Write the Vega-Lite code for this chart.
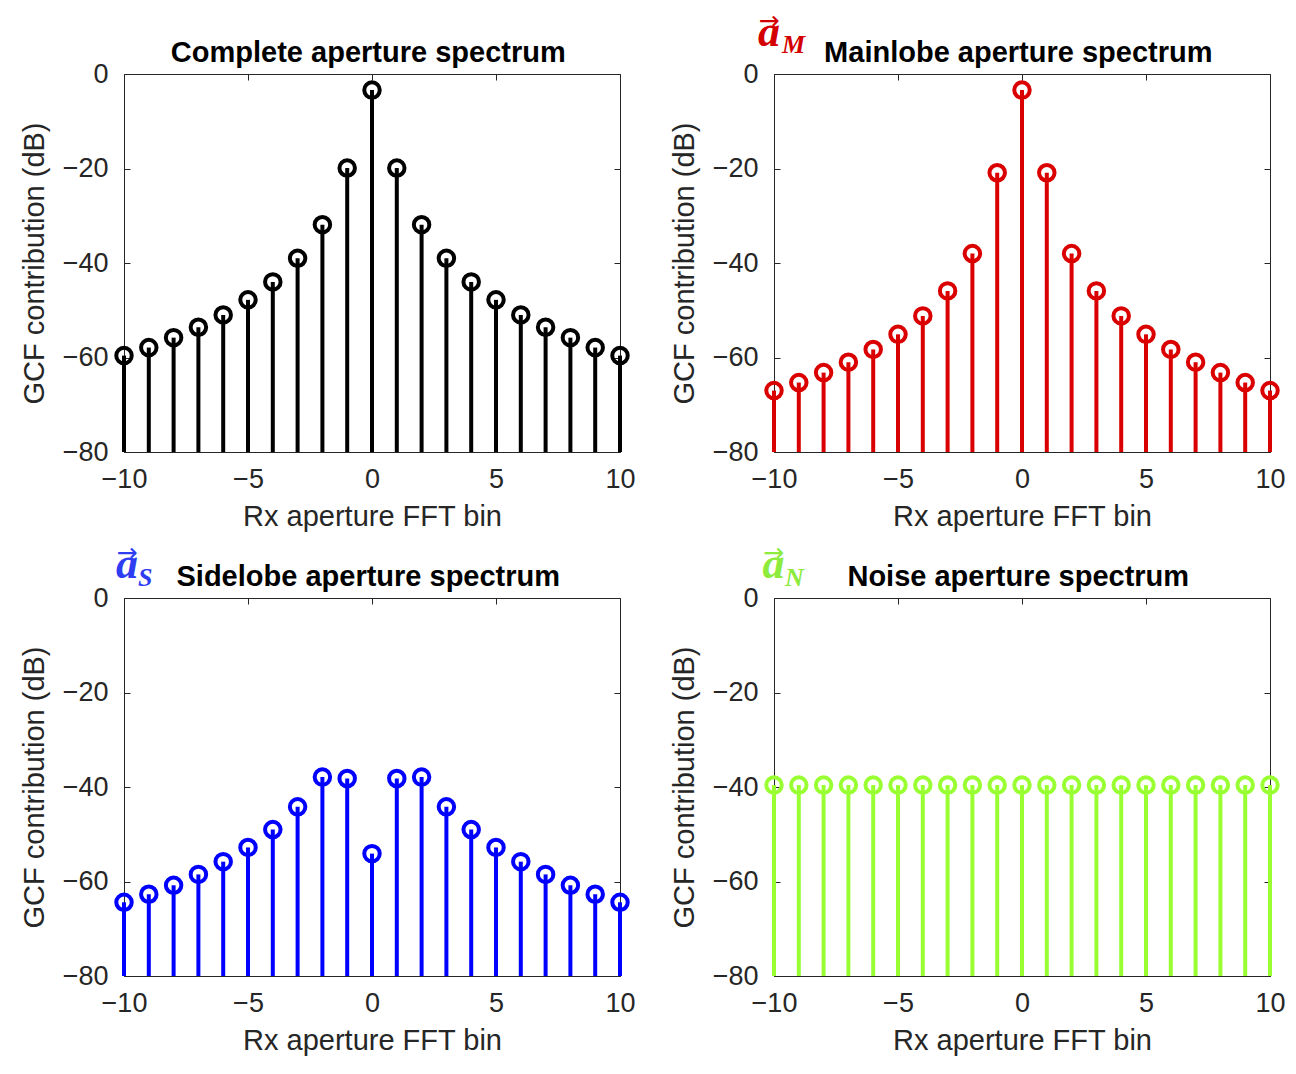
{
  "$schema": "https://vega.github.io/schema/vega-lite/v6.json",
  "background": "white",
  "padding": {"left": 20, "top": 9, "right": 5, "bottom": 5},
  "datasets": {
    "complete": [
      {"bin": -10, "db": -59.6}, {"bin": -9, "db": -57.9}, {"bin": -8, "db": -55.8}, {"bin": -7, "db": -53.6},
      {"bin": -6, "db": -51.0}, {"bin": -5, "db": -47.8}, {"bin": -4, "db": -44.0}, {"bin": -3, "db": -39.0},
      {"bin": -2, "db": -31.9}, {"bin": -1, "db": -19.9}, {"bin": 0, "db": -3.4}, {"bin": 1, "db": -19.9},
      {"bin": 2, "db": -31.9}, {"bin": 3, "db": -39.0}, {"bin": 4, "db": -44.0}, {"bin": 5, "db": -47.8},
      {"bin": 6, "db": -51.0}, {"bin": 7, "db": -53.6}, {"bin": 8, "db": -55.8}, {"bin": 9, "db": -57.9},
      {"bin": 10, "db": -59.6}
    ],
    "mainlobe": [
      {"bin": -10, "db": -67.0}, {"bin": -9, "db": -65.3}, {"bin": -8, "db": -63.2}, {"bin": -7, "db": -61.0},
      {"bin": -6, "db": -58.3}, {"bin": -5, "db": -55.1}, {"bin": -4, "db": -51.2}, {"bin": -3, "db": -45.9},
      {"bin": -2, "db": -38.0}, {"bin": -1, "db": -20.9}, {"bin": 0, "db": -3.4}, {"bin": 1, "db": -20.9},
      {"bin": 2, "db": -38.0}, {"bin": 3, "db": -45.9}, {"bin": 4, "db": -51.2}, {"bin": 5, "db": -55.1},
      {"bin": 6, "db": -58.3}, {"bin": 7, "db": -61.0}, {"bin": 8, "db": -63.2}, {"bin": 9, "db": -65.3},
      {"bin": 10, "db": -67.0}
    ],
    "sidelobe": [
      {"bin": -10, "db": -64.4}, {"bin": -9, "db": -62.7}, {"bin": -8, "db": -60.8}, {"bin": -7, "db": -58.5},
      {"bin": -6, "db": -55.8}, {"bin": -5, "db": -52.8}, {"bin": -4, "db": -49.0}, {"bin": -3, "db": -44.2},
      {"bin": -2, "db": -37.9}, {"bin": -1, "db": -38.2}, {"bin": 0, "db": -54.1}, {"bin": 1, "db": -38.2},
      {"bin": 2, "db": -37.9}, {"bin": 3, "db": -44.2}, {"bin": 4, "db": -49.0}, {"bin": 5, "db": -52.8},
      {"bin": 6, "db": -55.8}, {"bin": 7, "db": -58.5}, {"bin": 8, "db": -60.8}, {"bin": 9, "db": -62.7},
      {"bin": 10, "db": -64.4}
    ],
    "noise": [
      {"bin": -10, "db": -39.6}, {"bin": -9, "db": -39.6}, {"bin": -8, "db": -39.6}, {"bin": -7, "db": -39.6},
      {"bin": -6, "db": -39.6}, {"bin": -5, "db": -39.6}, {"bin": -4, "db": -39.6}, {"bin": -3, "db": -39.6},
      {"bin": -2, "db": -39.6}, {"bin": -1, "db": -39.6}, {"bin": 0, "db": -39.6}, {"bin": 1, "db": -39.6},
      {"bin": 2, "db": -39.6}, {"bin": 3, "db": -39.6}, {"bin": 4, "db": -39.6}, {"bin": 5, "db": -39.6},
      {"bin": 6, "db": -39.6}, {"bin": 7, "db": -39.6}, {"bin": 8, "db": -39.6}, {"bin": 9, "db": -39.6},
      {"bin": 10, "db": -39.6}
    ]
  },
  "columns": 2,
  "spacing": {"row": 146, "column": 154},
  "bounds": "flush",
  "concat": [
    {
      "width": 496,
      "height": 378,
      "layer": [
        {
          "data": {"name": "complete"},
          "mark": {"type": "rule", "strokeWidth": 4, "color": "#000000"},
          "encoding": {
            "x": {"field": "bin", "type": "quantitative", "scale": {"domain": [-10, 10]},
                  "axis": {"orient": "bottom", "values": [-10, -5, 0, 5, 10], "title": "Rx aperture FFT bin", "labelPadding": 20, "titlePadding": 10}},
            "y": {"field": "db", "type": "quantitative", "scale": {"domain": [-80, 0]},
                  "axis": {"orient": "left", "values": [-80, -60, -40, -20, 0], "title": "GCF contribution (dB)", "labelPadding": 22, "titlePadding": 13}},
            "y2": {"datum": -80}
          }
        },
        {
          "data": {"name": "complete"},
          "mark": {"type": "point", "shape": "circle", "filled": false, "size": 240, "strokeWidth": 4, "color": "#000000", "opacity": 1},
          "encoding": {
            "x": {"field": "bin", "type": "quantitative", "axis": {"orient": "top", "values": [-10, -5, 0, 5, 10], "labels": false, "title": null}},
            "y": {"field": "db", "type": "quantitative", "axis": {"orient": "right", "values": [-80, -60, -40, -20, 0], "labels": false, "title": null}}
          }
        },
        {
          "data": {"values": [{}]},
          "mark": {"type": "text", "text": "Complete aperture spectrum", "font": "Liberation Sans", "fontWeight": "bold", "fontSize": 29, "color": "#000000", "align": "center", "baseline": "alphabetic"},
          "encoding": {
            "x": {"datum": -0.15, "type": "quantitative", "axis": null},
            "y": {"datum": 2.6, "type": "quantitative", "axis": null}
          }
        }
      ],
      "resolve": {"axis": {"x": "independent", "y": "independent"}}
    },
    {
      "width": 496,
      "height": 378,
      "layer": [
        {
          "data": {"name": "mainlobe"},
          "mark": {"type": "rule", "strokeWidth": 4, "color": "#DA0000"},
          "encoding": {
            "x": {"field": "bin", "type": "quantitative", "scale": {"domain": [-10, 10]},
                  "axis": {"orient": "bottom", "values": [-10, -5, 0, 5, 10], "title": "Rx aperture FFT bin", "labelPadding": 20, "titlePadding": 10}},
            "y": {"field": "db", "type": "quantitative", "scale": {"domain": [-80, 0]},
                  "axis": {"orient": "left", "values": [-80, -60, -40, -20, 0], "title": "GCF contribution (dB)", "labelPadding": 22, "titlePadding": 13}},
            "y2": {"datum": -80}
          }
        },
        {
          "data": {"name": "mainlobe"},
          "mark": {"type": "point", "shape": "circle", "filled": false, "size": 240, "strokeWidth": 4, "color": "#DA0000", "opacity": 1},
          "encoding": {
            "x": {"field": "bin", "type": "quantitative", "axis": {"orient": "top", "values": [-10, -5, 0, 5, 10], "labels": false, "title": null}},
            "y": {"field": "db", "type": "quantitative", "axis": {"orient": "right", "values": [-80, -60, -40, -20, 0], "labels": false, "title": null}}
          }
        },
        {
          "data": {"values": [{}]},
          "mark": {"type": "text", "text": "Mainlobe aperture spectrum", "font": "Liberation Sans", "fontWeight": "bold", "fontSize": 29, "color": "#000000", "align": "center", "baseline": "alphabetic"},
          "encoding": {
            "x": {"datum": -0.15, "type": "quantitative", "axis": null},
            "y": {"datum": 2.6, "type": "quantitative", "axis": null}
          }
        },
        {
          "data": {"values": [{}]},
          "mark": {"type": "text", "text": "a", "font": "Liberation Serif", "fontWeight": "bold", "fontStyle": "italic", "fontSize": 44, "color": "#D40000", "align": "center", "baseline": "alphabetic"},
          "encoding": {
            "x": {"datum": -10.2, "type": "quantitative", "axis": null},
            "y": {"datum": 5.9, "type": "quantitative", "axis": null}
          }
        },
        {
          "data": {"values": [{}]},
          "mark": {"type": "text", "text": "M", "font": "Liberation Serif", "fontWeight": "bold", "fontStyle": "italic", "fontSize": 26, "color": "#D40000", "align": "left", "baseline": "alphabetic"},
          "encoding": {
            "x": {"datum": -9.68, "type": "quantitative", "axis": null},
            "y": {"datum": 4.44, "type": "quantitative", "axis": null}
          }
        },
        {
          "data": {"values": [{}]},
          "mark": {"type": "text", "text": "→", "font": "DejaVu Sans", "fontSize": 25, "color": "#D40000", "align": "center", "baseline": "alphabetic"},
          "encoding": {
            "x": {"datum": -10.2, "type": "quantitative", "axis": null},
            "y": {"datum": 9.5, "type": "quantitative", "axis": null}
          }
        }
      ],
      "resolve": {"axis": {"x": "independent", "y": "independent"}}
    },
    {
      "width": 496,
      "height": 378,
      "layer": [
        {
          "data": {"name": "sidelobe"},
          "mark": {"type": "rule", "strokeWidth": 4, "color": "#0000FF"},
          "encoding": {
            "x": {"field": "bin", "type": "quantitative", "scale": {"domain": [-10, 10]},
                  "axis": {"orient": "bottom", "values": [-10, -5, 0, 5, 10], "title": "Rx aperture FFT bin", "labelPadding": 20, "titlePadding": 10}},
            "y": {"field": "db", "type": "quantitative", "scale": {"domain": [-80, 0]},
                  "axis": {"orient": "left", "values": [-80, -60, -40, -20, 0], "title": "GCF contribution (dB)", "labelPadding": 22, "titlePadding": 13}},
            "y2": {"datum": -80}
          }
        },
        {
          "data": {"name": "sidelobe"},
          "mark": {"type": "point", "shape": "circle", "filled": false, "size": 240, "strokeWidth": 4, "color": "#0000FF", "opacity": 1},
          "encoding": {
            "x": {"field": "bin", "type": "quantitative", "axis": {"orient": "top", "values": [-10, -5, 0, 5, 10], "labels": false, "title": null}},
            "y": {"field": "db", "type": "quantitative", "axis": {"orient": "right", "values": [-80, -60, -40, -20, 0], "labels": false, "title": null}}
          }
        },
        {
          "data": {"values": [{}]},
          "mark": {"type": "text", "text": "Sidelobe aperture spectrum", "font": "Liberation Sans", "fontWeight": "bold", "fontSize": 29, "color": "#000000", "align": "center", "baseline": "alphabetic"},
          "encoding": {
            "x": {"datum": -0.15, "type": "quantitative", "axis": null},
            "y": {"datum": 2.6, "type": "quantitative", "axis": null}
          }
        },
        {
          "data": {"values": [{}]},
          "mark": {"type": "text", "text": "a", "font": "Liberation Serif", "fontWeight": "bold", "fontStyle": "italic", "fontSize": 44, "color": "#2E3CF2", "align": "center", "baseline": "alphabetic"},
          "encoding": {
            "x": {"datum": -9.88, "type": "quantitative", "axis": null},
            "y": {"datum": 4.23, "type": "quantitative", "axis": null}
          }
        },
        {
          "data": {"values": [{}]},
          "mark": {"type": "text", "text": "S", "font": "Liberation Serif", "fontWeight": "bold", "fontStyle": "italic", "fontSize": 26, "color": "#2E3CF2", "align": "left", "baseline": "alphabetic"},
          "encoding": {
            "x": {"datum": -9.44, "type": "quantitative", "axis": null},
            "y": {"datum": 2.54, "type": "quantitative", "axis": null}
          }
        },
        {
          "data": {"values": [{}]},
          "mark": {"type": "text", "text": "→", "font": "DejaVu Sans", "fontSize": 25, "color": "#2E3CF2", "align": "center", "baseline": "alphabetic"},
          "encoding": {
            "x": {"datum": -9.88, "type": "quantitative", "axis": null},
            "y": {"datum": 7.9, "type": "quantitative", "axis": null}
          }
        }
      ],
      "resolve": {"axis": {"x": "independent", "y": "independent"}}
    },
    {
      "width": 496,
      "height": 378,
      "layer": [
        {
          "data": {"name": "noise"},
          "mark": {"type": "rule", "strokeWidth": 4, "color": "#99FF33"},
          "encoding": {
            "x": {"field": "bin", "type": "quantitative", "scale": {"domain": [-10, 10]},
                  "axis": {"orient": "bottom", "values": [-10, -5, 0, 5, 10], "title": "Rx aperture FFT bin", "labelPadding": 20, "titlePadding": 10}},
            "y": {"field": "db", "type": "quantitative", "scale": {"domain": [-80, 0]},
                  "axis": {"orient": "left", "values": [-80, -60, -40, -20, 0], "title": "GCF contribution (dB)", "labelPadding": 22, "titlePadding": 13}},
            "y2": {"datum": -80}
          }
        },
        {
          "data": {"name": "noise"},
          "mark": {"type": "point", "shape": "circle", "filled": false, "size": 240, "strokeWidth": 4, "color": "#99FF33", "opacity": 1},
          "encoding": {
            "x": {"field": "bin", "type": "quantitative", "axis": {"orient": "top", "values": [-10, -5, 0, 5, 10], "labels": false, "title": null}},
            "y": {"field": "db", "type": "quantitative", "axis": {"orient": "right", "values": [-80, -60, -40, -20, 0], "labels": false, "title": null}}
          }
        },
        {
          "data": {"values": [{}]},
          "mark": {"type": "text", "text": "Noise aperture spectrum", "font": "Liberation Sans", "fontWeight": "bold", "fontSize": 29, "color": "#000000", "align": "center", "baseline": "alphabetic"},
          "encoding": {
            "x": {"datum": -0.15, "type": "quantitative", "axis": null},
            "y": {"datum": 2.6, "type": "quantitative", "axis": null}
          }
        },
        {
          "data": {"values": [{}]},
          "mark": {"type": "text", "text": "a", "font": "Liberation Serif", "fontWeight": "bold", "fontStyle": "italic", "fontSize": 44, "color": "#8CEB3C", "align": "center", "baseline": "alphabetic"},
          "encoding": {
            "x": {"datum": -10.02, "type": "quantitative", "axis": null},
            "y": {"datum": 4.23, "type": "quantitative", "axis": null}
          }
        },
        {
          "data": {"values": [{}]},
          "mark": {"type": "text", "text": "N", "font": "Liberation Serif", "fontWeight": "bold", "fontStyle": "italic", "fontSize": 26, "color": "#8CEB3C", "align": "left", "baseline": "alphabetic"},
          "encoding": {
            "x": {"datum": -9.56, "type": "quantitative", "axis": null},
            "y": {"datum": 2.54, "type": "quantitative", "axis": null}
          }
        },
        {
          "data": {"values": [{}]},
          "mark": {"type": "text", "text": "→", "font": "DejaVu Sans", "fontSize": 25, "color": "#8CEB3C", "align": "center", "baseline": "alphabetic"},
          "encoding": {
            "x": {"datum": -10.02, "type": "quantitative", "axis": null},
            "y": {"datum": 7.9, "type": "quantitative", "axis": null}
          }
        }
      ],
      "resolve": {"axis": {"x": "independent", "y": "independent"}}
    }
  ],
  "config": {
    "view": {"stroke": null},
    "axis": {
      "grid": false,
      "domainColor": "#262626",
      "domainWidth": 1,
      "tickColor": "#262626",
      "tickWidth": 1,
      "tickSize": -6,
      "labelFont": "Liberation Sans",
      "labelFontSize": 27,
      "labelColor": "#262626",
      "labelOverlap": false,
      "labelFlush": false,
      "titleFont": "Liberation Sans",
      "titleFontSize": 29,
      "titleFontWeight": "normal",
      "titleColor": "#262626"
    }
  }
}
